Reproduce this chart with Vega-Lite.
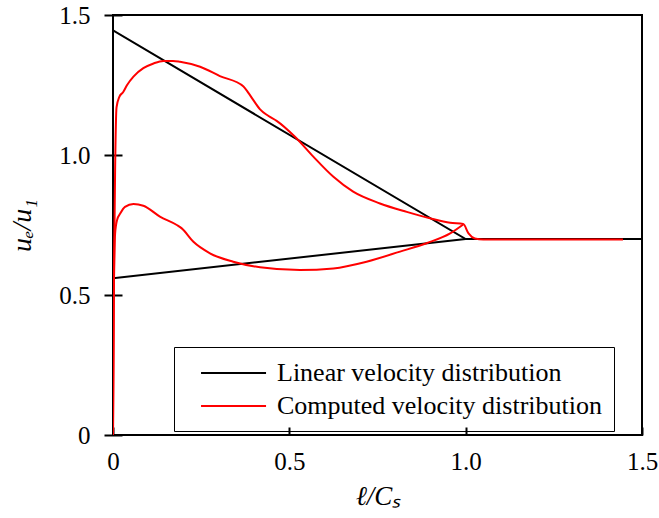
{
  "$schema": "https://vega.github.io/schema/vega-lite/v6.json",
  "width": 529,
  "height": 420,
  "autosize": {"type": "none"},
  "padding": {"left": 113, "top": 15, "right": 17, "bottom": 83},
  "config": {
    "view": {"stroke": "black", "strokeWidth": 2},
    "font": "Liberation Serif, Times New Roman, serif",
    "axis": {"grid": false, "labelFont": "Liberation Serif, Times New Roman, serif", "titleFont": "Liberation Serif, Times New Roman, serif", "labelColor": "black", "titleColor": "black", "tickColor": "black", "domainColor": "black", "labelFontSize": 25, "titleFontSize": 27, "titleFontWeight": "normal", "titleFontStyle": "italic", "tickWidth": 2, "domainWidth": 2}
  },
  "datasets": {
    "pts": [
      {"x": 0, "y": 1.445, "s": "Linear velocity distribution", "p": "lu", "o": 1},
      {"x": 1.0, "y": 0.7, "s": "Linear velocity distribution", "p": "lu", "o": 2},
      {"x": 1.5, "y": 0.7, "s": "Linear velocity distribution", "p": "lu", "o": 3},
      {"x": 0, "y": 0.56, "s": "Linear velocity distribution", "p": "ll", "o": 1},
      {"x": 1.0, "y": 0.7, "s": "Linear velocity distribution", "p": "ll", "o": 2},

      {"x": 0, "y": 0, "s": "Computed velocity distribution", "p": "cu", "o": 1},
      {"x": 0.003, "y": 0.6, "s": "Computed velocity distribution", "p": "cu", "o": 2},
      {"x": 0.006, "y": 0.95, "s": "Computed velocity distribution", "p": "cu", "o": 3},
      {"x": 0.01, "y": 1.17, "s": "Computed velocity distribution", "p": "cu", "o": 4},
      {"x": 0.018, "y": 1.208, "s": "Computed velocity distribution", "p": "cu", "o": 5},
      {"x": 0.029, "y": 1.225, "s": "Computed velocity distribution", "p": "cu", "o": 6},
      {"x": 0.04, "y": 1.25, "s": "Computed velocity distribution", "p": "cu", "o": 7},
      {"x": 0.058, "y": 1.28, "s": "Computed velocity distribution", "p": "cu", "o": 8},
      {"x": 0.086, "y": 1.31, "s": "Computed velocity distribution", "p": "cu", "o": 9},
      {"x": 0.115, "y": 1.327, "s": "Computed velocity distribution", "p": "cu", "o": 10},
      {"x": 0.143, "y": 1.336, "s": "Computed velocity distribution", "p": "cu", "o": 11},
      {"x": 0.17, "y": 1.336, "s": "Computed velocity distribution", "p": "cu", "o": 12},
      {"x": 0.19, "y": 1.333, "s": "Computed velocity distribution", "p": "cu", "o": 13},
      {"x": 0.247, "y": 1.315, "s": "Computed velocity distribution", "p": "cu", "o": 14},
      {"x": 0.303, "y": 1.282, "s": "Computed velocity distribution", "p": "cu", "o": 15},
      {"x": 0.37, "y": 1.245, "s": "Computed velocity distribution", "p": "cu", "o": 16},
      {"x": 0.385, "y": 1.22, "s": "Computed velocity distribution", "p": "cu", "o": 17},
      {"x": 0.398, "y": 1.196, "s": "Computed velocity distribution", "p": "cu", "o": 18},
      {"x": 0.417, "y": 1.163, "s": "Computed velocity distribution", "p": "cu", "o": 19},
      {"x": 0.44, "y": 1.14, "s": "Computed velocity distribution", "p": "cu", "o": 20},
      {"x": 0.464, "y": 1.122, "s": "Computed velocity distribution", "p": "cu", "o": 21},
      {"x": 0.516, "y": 1.065, "s": "Computed velocity distribution", "p": "cu", "o": 22},
      {"x": 0.568, "y": 0.994, "s": "Computed velocity distribution", "p": "cu", "o": 23},
      {"x": 0.625, "y": 0.922, "s": "Computed velocity distribution", "p": "cu", "o": 24},
      {"x": 0.681, "y": 0.869, "s": "Computed velocity distribution", "p": "cu", "o": 25},
      {"x": 0.757, "y": 0.827, "s": "Computed velocity distribution", "p": "cu", "o": 26},
      {"x": 0.833, "y": 0.797, "s": "Computed velocity distribution", "p": "cu", "o": 27},
      {"x": 0.899, "y": 0.774, "s": "Computed velocity distribution", "p": "cu", "o": 28},
      {"x": 0.956, "y": 0.758, "s": "Computed velocity distribution", "p": "cu", "o": 29},
      {"x": 0.993, "y": 0.754, "s": "Computed velocity distribution", "p": "cu", "o": 30},
      {"x": 1.008, "y": 0.72, "s": "Computed velocity distribution", "p": "cu", "o": 31},
      {"x": 1.026, "y": 0.702, "s": "Computed velocity distribution", "p": "cu", "o": 32},
      {"x": 1.05, "y": 0.698, "s": "Computed velocity distribution", "p": "cu", "o": 33},
      {"x": 1.446, "y": 0.698, "s": "Computed velocity distribution", "p": "cu", "o": 34},

      {"x": 0, "y": 0, "s": "Computed velocity distribution", "p": "cl", "o": 1},
      {"x": 0.002, "y": 0.45, "s": "Computed velocity distribution", "p": "cl", "o": 2},
      {"x": 0.006, "y": 0.72, "s": "Computed velocity distribution", "p": "cl", "o": 3},
      {"x": 0.012, "y": 0.77, "s": "Computed velocity distribution", "p": "cl", "o": 4},
      {"x": 0.02, "y": 0.79, "s": "Computed velocity distribution", "p": "cl", "o": 5},
      {"x": 0.034, "y": 0.815, "s": "Computed velocity distribution", "p": "cl", "o": 6},
      {"x": 0.058, "y": 0.825, "s": "Computed velocity distribution", "p": "cl", "o": 7},
      {"x": 0.086, "y": 0.819, "s": "Computed velocity distribution", "p": "cl", "o": 8},
      {"x": 0.133, "y": 0.78, "s": "Computed velocity distribution", "p": "cl", "o": 9},
      {"x": 0.181, "y": 0.75, "s": "Computed velocity distribution", "p": "cl", "o": 10},
      {"x": 0.195, "y": 0.738, "s": "Computed velocity distribution", "p": "cl", "o": 11},
      {"x": 0.228, "y": 0.69, "s": "Computed velocity distribution", "p": "cl", "o": 12},
      {"x": 0.275, "y": 0.649, "s": "Computed velocity distribution", "p": "cl", "o": 13},
      {"x": 0.341, "y": 0.619, "s": "Computed velocity distribution", "p": "cl", "o": 14},
      {"x": 0.417, "y": 0.599, "s": "Computed velocity distribution", "p": "cl", "o": 15},
      {"x": 0.53, "y": 0.589, "s": "Computed velocity distribution", "p": "cl", "o": 16},
      {"x": 0.625, "y": 0.595, "s": "Computed velocity distribution", "p": "cl", "o": 17},
      {"x": 0.719, "y": 0.619, "s": "Computed velocity distribution", "p": "cl", "o": 18},
      {"x": 0.814, "y": 0.655, "s": "Computed velocity distribution", "p": "cl", "o": 19},
      {"x": 0.889, "y": 0.685, "s": "Computed velocity distribution", "p": "cl", "o": 20},
      {"x": 0.956, "y": 0.72, "s": "Computed velocity distribution", "p": "cl", "o": 21},
      {"x": 0.993, "y": 0.752, "s": "Computed velocity distribution", "p": "cl", "o": 22}
    ]
  },
  "data": {"name": "pts"},
  "encoding": {
    "x": {"field": "x", "type": "quantitative", "scale": {"domain": [0, 1.5], "nice": false, "zero": false},
      "axis": {"title": "ℓ/Cₛ", "values": [0, 0.5, 1.0, 1.5], "labelExpr": "datum.value == 0 ? '0' : format(datum.value, '.1f')", "labelFont": "Liberation Serif", "tickSize": -8, "domain": false, "labelPadding": 22, "titlePadding": 9, "labelFlush": false}},
    "y": {"field": "y", "type": "quantitative", "scale": {"domain": [0, 1.5], "nice": false, "zero": false},
      "axis": {"title": "uₑ/u₁", "titleFontSize": 28, "values": [0, 0.5, 1.0, 1.5], "labelExpr": "datum.value == 0 ? '0' : format(datum.value, '.1f')", "labelFont": "Liberation Serif", "tickSize": 18, "offset": -9, "domain": false, "labelPadding": 14, "titlePadding": 22, "labelFlush": false}},
    "color": {"field": "s", "type": "nominal",
      "scale": {"domain": ["Linear velocity distribution", "Computed velocity distribution"], "range": ["black", "red"]},
      "legend": {"title": null, "orient": "none", "legendX": 61, "legendY": 332, "strokeColor": "black", "padding": 12, "symbolType": "M0.08,0H5.08", "symbolSize": 676, "symbolStrokeWidth": 2, "labelFont": "Liberation Serif, Times New Roman, serif", "labelFontSize": 26, "labelColor": "black", "labelOffset": 63, "rowPadding": 6, "labelLimit": 600, "labelExpr": "datum.label + '\u00a0\u00a0\u00a0'"}},
    "detail": {"field": "p", "type": "nominal"},
    "order": {"field": "o", "type": "quantitative"}
  },
  "layer": [
    {"transform": [{"filter": "datum.s == 'Linear velocity distribution'"}], "mark": {"type": "line", "strokeWidth": 2, "clip": true}},
    {"transform": [{"filter": "datum.s == 'Computed velocity distribution'"}], "mark": {"type": "line", "strokeWidth": 2, "clip": true, "interpolate": "monotone"}}
  ]
}
